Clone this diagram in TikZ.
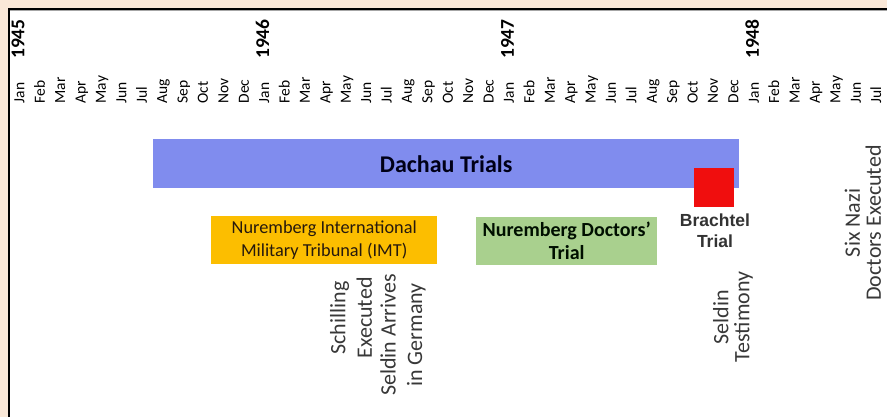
\documentclass[tikz,border=0pt]{standalone}
\usepackage{fontspec}
\setmainfont{Carlito}
\newfontfamily\arialfont{Liberation Sans}
\definecolor{peach}{RGB}{250,232,216}
\definecolor{dachau}{RGB}{128,140,238}
\definecolor{imt}{RGB}{252,190,0}
\definecolor{doctors}{RGB}{169,208,142}
\definecolor{brred}{RGB}{240,14,14}
\tikzset{
  monthlabel/.style={rotate=90, anchor=mid west, inner sep=0pt, text=black,
    font=\fontsize{15.5}{17}\selectfont},
  yearlabel/.style={rotate=90, anchor=mid west, inner sep=0pt, text=black,
    font=\bfseries\fontsize{19.5}{21}\selectfont},
  periodbar/.style={anchor=north west, inner sep=0pt, align=center},
  vlabel/.style={rotate=90, align=center, inner sep=0pt, text=black!78,
    font=\fontsize{22}{26.5}\selectfont},
}
\begin{document}
\begin{tikzpicture}[x=1pt,y=-1pt]
\useasboundingbox (0,0) rectangle (887,417);
\fill[peach] (0,0) rectangle (887,417);
\fill[white] (9,9) rectangle (887,417);
\draw[black!35, line width=1pt] (10,10.8) -- (887,10.8);
\draw[line width=2pt] (9,417) -- (9,9) -- (887,9);

% months
\foreach \m [count=\i from 0] in {Jan,Feb,Mar,Apr,May,Jun,Jul,Aug,Sep,Oct,Nov,Dec,
  Jan,Feb,Mar,Apr,May,Jun,Jul,Aug,Sep,Oct,Nov,Dec,
  Jan,Feb,Mar,Apr,May,Jun,Jul,Aug,Sep,Oct,Nov,Dec,
  Jan,Feb,Mar,Apr,May,Jun,Jul}
  \node[monthlabel] (m\i) at ({22+20.4*\i},103.5) {\m};
% years
\foreach \y [count=\k from 0] in {1945,1946,1947,1948}
  \node[yearlabel] (y\y) at ({22+244.8*\k},59) {\y};

% bars
\node[periodbar, fill=dachau, minimum width=586pt, minimum height=49pt,
  text=black!85!blue!60!black, font=\bfseries\fontsize{24}{28}\selectfont]
  (dachau) at (153,139) {Dachau Trials};
\node[periodbar, fill=brred, minimum width=40pt, minimum height=39pt]
  (brsq) at (694,168) {};
\node[align=center, inner sep=0pt, text=black!80,
  font=\arialfont\bfseries\fontsize{17.5}{21}\selectfont]
  (brachtel) at (715,231) {Brachtel\\Trial};
\node[periodbar, fill=imt, minimum width=226pt, minimum height=48pt,
  text=black!80!brown, font=\fontsize{18.3}{23}\selectfont]
  (imt) at (211,216) {Nuremberg International\\Military Tribunal (IMT)};
\node[periodbar, fill=doctors, minimum width=181pt, minimum height=48pt,
  text=black!85!green!40!black, font=\bfseries\fontsize{20}{23}\selectfont]
  (doc) at (476,217) {Nuremberg Doctors'\\Trial};

% events
\node[vlabel] (schilling) at (351,318) {Schilling\\Executed};
\node[vlabel] (seldinarr) at (403,335) {Seldin Arrives\\in Germany};
\node[vlabel, font=\fontsize{22}{21}\selectfont] (seldintest) at (733,317) {Seldin\\Testimony};
\node[vlabel, font=\fontsize{22}{21}\selectfont] (sixnazi) at (863,223) {Six Nazi\\Doctors Executed};
\end{tikzpicture}
\end{document}
